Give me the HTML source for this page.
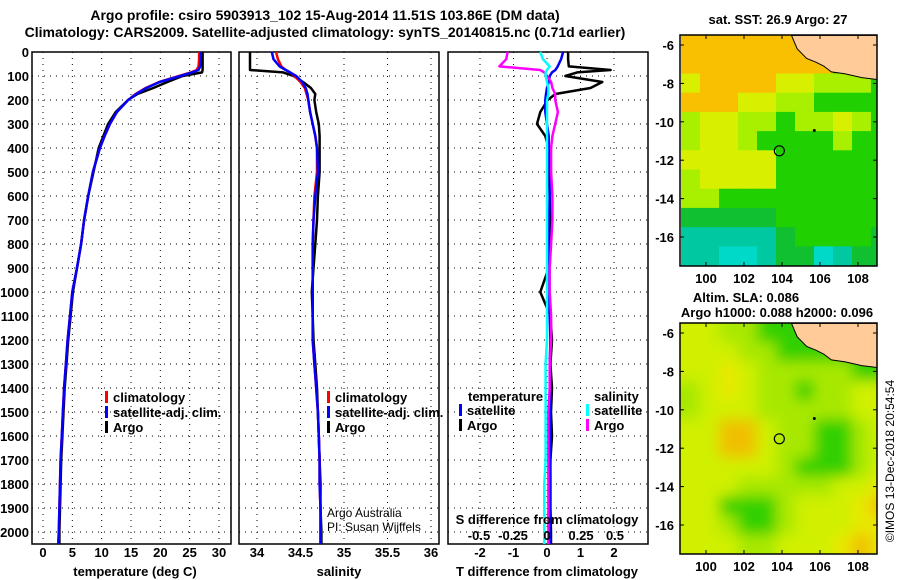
<!DOCTYPE html>
<html><head><meta charset="utf-8">
<style>
body{margin:0;background:#fff;}
svg{display:block;font-family:"Liberation Sans",sans-serif;}
.b{font-weight:bold;font-size:13px;fill:#000;}
.t{font-weight:bold;font-size:14px;fill:#000;}
.n{font-size:12px;fill:#000;}
</style></head>
<body>
<svg id="chart" width="900" height="580" viewBox="0 0 900 580">
<defs><filter id="blur" x="-10%" y="-10%" width="120%" height="120%"><feGaussianBlur stdDeviation="7"/></filter></defs>
<text class="t" x="325" y="20" text-anchor="middle">Argo profile: csiro 5903913_102 15-Aug-2014 11.51S 103.86E (DM data)</text>
<text class="t" x="325" y="37" text-anchor="middle">Climatology: CARS2009. Satellite-adjusted climatology: synTS_20140815.nc (0.71d earlier)</text>
<g id="g"></g>
</svg>
<script>
// ---------- data ----------
const depthTicks=[0,100,200,300,400,500,600,700,800,900,1000,1100,1200,1300,1400,1500,1600,1700,1800,1900,2000];
const tempTicks=[0,5,10,15,20,25,30];
const salTicks=[34,34.5,35,35.5,36];
const tdTicks=[-2,-1,0,1,2];
const sdTicks=[-0.5,-0.25,0,0.25,0.5];
const pres=[0,30,60,75,85,100,125,150,175,200,250,300,350,400,500,600,700,800,900,1000,1100,1200,1300,1400,1500,1600,1700,1800,1900,2000,2050];
const tClim=[26.6,26.6,26.5,26.2,25.2,23.2,19.8,17.5,15.8,14.5,12.6,11.4,10.5,9.7,8.5,7.7,7.0,6.5,5.8,5.0,4.6,4.2,3.9,3.6,3.4,3.2,3.0,2.9,2.8,2.7,2.6];
const tSat=[26.9,26.9,26.8,26.5,25.4,23.4,19.9,17.6,15.9,14.5,12.6,11.4,10.5,9.7,8.5,7.7,7.0,6.5,5.8,5.0,4.6,4.2,3.9,3.6,3.4,3.2,3.0,2.9,2.8,2.7,2.6];
const tArgo=[27.2,27.2,27.2,27.2,27.1,23.8,21.2,18.8,16.1,14.5,12.4,11.1,10.3,9.5,8.6,7.7,7.0,6.5,5.8,5.1,4.7,4.3,4.0,3.7,3.5,3.3,3.1,3.0,2.9,2.8,2.8];
const sClim=[34.22,34.24,34.28,34.33,34.38,34.43,34.50,34.55,34.57,34.59,34.61,34.64,34.67,34.69,34.69,34.66,34.65,34.64,34.64,34.64,34.64,34.64,34.66,34.68,34.70,34.71,34.72,34.72,34.73,34.73,34.73];
const sSat=[34.17,34.19,34.26,34.33,34.38,34.45,34.52,34.56,34.58,34.59,34.61,34.64,34.67,34.69,34.70,34.67,34.65,34.64,34.64,34.64,34.64,34.64,34.66,34.68,34.70,34.71,34.72,34.72,34.73,34.73,34.73];
const sArgo=[33.92,33.92,33.92,33.92,34.30,34.42,34.53,34.62,34.67,34.66,34.68,34.71,34.72,34.72,34.72,34.70,34.69,34.67,34.65,34.63,34.64,34.65,34.67,34.69,34.70,34.71,34.72,34.73,34.73,34.74,34.74];
const dTsat=[0.48,0.42,0.32,0.25,0.15,0.08,0.05,0.0,-0.03,-0.05,-0.05,0.0,0.05,0.05,0.08,0.08,0.06,0.05,0.05,0.06,0.08,0.1,0.08,0.1,0.1,0.1,0.1,0.08,0.08,0.08,0.08];
const dTargo=[0.63,0.63,0.65,1.9,0.9,0.55,1.65,1.3,0.25,0.02,-0.2,-0.3,-0.05,0.05,0.05,0.08,0.1,0.08,0.05,-0.2,0.1,0.15,0.1,0.15,0.12,0.15,0.1,0.1,0.1,0.12,0.12];
const dSsat=[-0.05,-0.03,0.02,0.0,-0.01,-0.01,0.0,0.01,0.01,0.0,0.0,0.0,0.0,0.0,0.0,0.0,0.0,0.0,0.0,0.0,0.0,0.0,-0.01,-0.01,-0.01,-0.01,-0.01,-0.02,-0.02,-0.02,-0.02];
const dSargo=[-0.29,-0.3,-0.35,-0.05,-0.02,0.0,0.03,0.04,0.06,0.06,0.08,0.06,0.04,0.03,0.03,0.04,0.04,0.03,0.02,0.02,0.03,0.03,0.02,0.02,0.01,0.01,0.01,0.01,0.01,0.01,0.01];
// maps (1-degree cells from lat -5.5 southward, lon 98.7 eastward)
const sstGrid=["OOOOOOOXXXX","OOOOOOOOXXX","YOOOOYYLLLG","OOOYYLLGGGG","LYYLLGLLYLG","LYYLGGGGLGG","YYYYYGGGGGG","LYYYYGGGGGG","LLGGGGGGGGG","DDDDDGGGGGG","TTTTTDGGGGD","TTCCTDDCTDD"];
const slaGrid=["YYLLGGGXXXX","YYYLLGGGXXX","YYEYLLLLLGG","LYEYLLGLLYY","LYYYLLLLLYY","YYOOYLLGGLY","YYOOYLLGGLY","YYYYYLGGGLY","YYYLLLLLYYE","YYGGGLYYYEO","YYLGGLYYYEE","YYYLLYYYEOE"];
const argoLon=103.86, argoLat=-11.51;
const sstCol={O:"#f8c000",Y:"#d8f000",L:"#a8f000",G:"#20d000",D:"#10c030",T:"#00c8a0",C:"#00d8c8",X:"#20d000"};
const slaCol={O:"#f0c000",E:"#e8e800",Y:"#d0f000",L:"#a8e800",G:"#30d000",X:"#20d000"};
const coast=[[104.5,-5.5],[104.8,-6.2],[105.3,-6.7],[105.8,-6.9],[106.2,-7.1],[106.6,-7.4],[107.3,-7.5],[108.2,-7.7],[109.05,-7.8],[109.05,-5.5]];

// ---------- helpers ----------
const NS="http://www.w3.org/2000/svg";
const G=document.getElementById('g');
function el(t,a,p){const e=document.createElementNS(NS,t);for(const k in a)e.setAttribute(k,a[k]);(p||G).appendChild(e);return e;}
const yD=d=>52+d*0.24;
const PB=544;
const xT=v=>43+v*(176/30);
const xS=v=>257+(v-34)*87;
const xTd=v=>547+v*33.5;
const xSd=v=>547+v*136;

function panel(name,x0,x1,xs,ticks,fmt,labelY){
  const g=el('g',{});
  
  
  ticks.forEach(t=>{el('line',{x1:xs(t),x2:xs(t),y1:52,y2:PB,stroke:'#000','stroke-dasharray':'1,5','stroke-width':1},g);});
  depthTicks.forEach(d=>{el('line',{x1:x0,x2:x1,y1:yD(d),y2:yD(d),stroke:'#000','stroke-dasharray':'1,5','stroke-width':1},g);});
  el('rect',{x:x0,y:52,width:x1-x0,height:PB-52,fill:'none',stroke:'#000','stroke-width':1.5},g);
  if(fmt){ticks.forEach(t=>{const tx=el('text',{x:xs(t),y:labelY,'text-anchor':'middle',class:'b'},g);tx.textContent=fmt(t);
    
    });}
  return g;
}
function line(vals,xs,col,w,name){
  const p=el('polyline',{points:vals.map((v,i)=>xs(v).toFixed(1)+','+yD(pres[i]).toFixed(1)).join(' '),fill:'none',stroke:col,'stroke-width':w,'stroke-linejoin':'round'});
  
  
}
function txt(s,x,y,cls,anchor,name){const t=el('text',{x:x,y:y,class:cls||'b','text-anchor':anchor||'start'});t.textContent=s;
  
  return t;}
function legend(items,x,y){items.forEach((it,i)=>{el('rect',{x:x,y:y+i*15-11,width:3,height:12,fill:it[1]});txt(it[0],x+8,y+i*15,'b','start','legend-entry');});}

depthTicks.forEach(d=>txt(String(d),29,yD(d)+5,'b','end','y-tick-label'));

panel('temperature-panel',32,231,xT,tempTicks,t=>String(t),557);
line(tArgo,xT,'#000',2.5,'temp-argo-line');
line(tClim,xT,'#f00',2.5,'temp-clim-line');
line(tSat,xT,'#00f',2.5,'temp-sat-line');
txt('temperature (deg C)',135,576,'b','middle','temperature-axis-title');
legend([['climatology','#f00'],['satellite-adj. clim.','#00f'],['Argo','#000']],105,402);

panel('salinity-panel',239,439,xS,salTicks,t=>String(t),557);
line(sArgo,xS,'#000',2.5,'sal-argo-line');
line(sClim,xS,'#f00',2.5,'sal-clim-line');
line(sSat,xS,'#00f',2.5,'sal-sat-line');
txt('salinity',339,576,'b','middle','salinity-axis-title');
legend([['climatology','#f00'],['satellite-adj. clim.','#00f'],['Argo','#000']],327,402);
txt('Argo Australia',327,517,'n','start','credit-argo-australia');
txt('PI: Susan Wijffels',327,531,'n','start','credit-pi');

panel('difference-panel',448,648,xTd,tdTicks,t=>String(t),557);
line(dTargo,xTd,'#000',2.5,'tdiff-argo-line');
line(dTsat,xTd,'#00f',2.5,'tdiff-sat-line');
line(dSargo,xSd,'#f0f',2.5,'sdiff-argo-line');
line(dSsat,xSd,'#0ff',2.5,'sdiff-sat-line');
sdTicks.forEach(t=>txt(String(t),xSd(t),540,'b','middle','s-tick-label'));
txt('S difference from climatology',547,524,'b','middle','s-axis-title');
txt('T difference from climatology',547,576,'b','middle','t-axis-title');
txt('temperature',468,401,'b','start','legend-title-temperature');
legend([['satellite','#00f'],['Argo','#000']],459,415);
txt('salinity',594,401,'b','start','legend-title-salinity');
legend([['satellite','#0ff'],['Argo','#f0f']],586,415);

function map(name,top,grid,cols,smooth){
  const L=680,R=877,B=top+231;
  const lx=v=>706+(v-100)*19;
  const lyy=v=>top+10+(-6-v)*19.2;
  const g=el('g',{});
  
  
  const cid='c'+top;
  const cp=el('clipPath',{id:cid},g);el('rect',{x:L,y:top,width:R-L,height:B-top},cp);
  const cg=el('g',{'clip-path':'url(#'+cid+')'},g);
  const fg=smooth?el('g',{filter:'url(#blur)'},cg):cg;
  grid.forEach((row,r)=>{[...row].forEach((c,k)=>{
    el('rect',{x:lx(98.7+k)-0.3-(k==0&&smooth?30:0),y:lyy(-5.5-r)-0.3-(r==0&&smooth?30:0),width:19.6+(smooth&&(k==0||k==row.length-1)?30:0),height:19.8+(smooth&&(r==0||r==grid.length-1)?30:0),fill:cols[c]},fg);});});
  el('polygon',{points:coast.map(p=>lx(p[0])+','+lyy(p[1])).join(' '),fill:'#ffcc99',stroke:'#000','stroke-width':1},cg);
  el('circle',{cx:lx(105.7),cy:lyy(-10.45),r:1.5,fill:'#000'},cg);
  const c=el('circle',{cx:lx(argoLon),cy:lyy(argoLat),r:5,fill:'none',stroke:'#000','stroke-width':1.2},g);
  
  
  el('rect',{x:L,y:top,width:R-L,height:B-top,fill:'none',stroke:'#000','stroke-width':1.5},g);
  [100,102,104,106,108].forEach(v=>{el('line',{x1:lx(v),x2:lx(v),y1:top,y2:top+4,stroke:'#000'},g);el('line',{x1:lx(v),x2:lx(v),y1:B,y2:B-4,stroke:'#000'},g);
    txt(String(v),lx(v),B+17,'b','middle','lon-tick-label');});
  [-6,-8,-10,-12,-14,-16].forEach(v=>{el('line',{x1:R,x2:R-4,y1:lyy(v),y2:lyy(v),stroke:'#000'},g);el('line',{x1:L,x2:L+4,y1:lyy(v),y2:lyy(v),stroke:'#000'},g);
    txt(String(v),L-6,lyy(v)+5,'b','end','lat-tick-label');});
}
map('sst-map',35,sstGrid,sstCol,false);
map('sla-map',323,slaGrid,slaCol,true);
txt('sat. SST: 26.9 Argo: 27',778,24,'b','middle','sst-map-title');
txt('Altim. SLA: 0.086',746,302,'b','middle','sla-map-title');
txt('Argo h1000: 0.088 h2000: 0.096',777,317,'b','middle','sla-map-subtitle');
const cr=txt('©IMOS 13-Dec-2018 20:54:54',0,0,'n','middle','copyright-stamp');
cr.setAttribute('transform','translate(894,461) rotate(-90)');
</script>
</body></html>
